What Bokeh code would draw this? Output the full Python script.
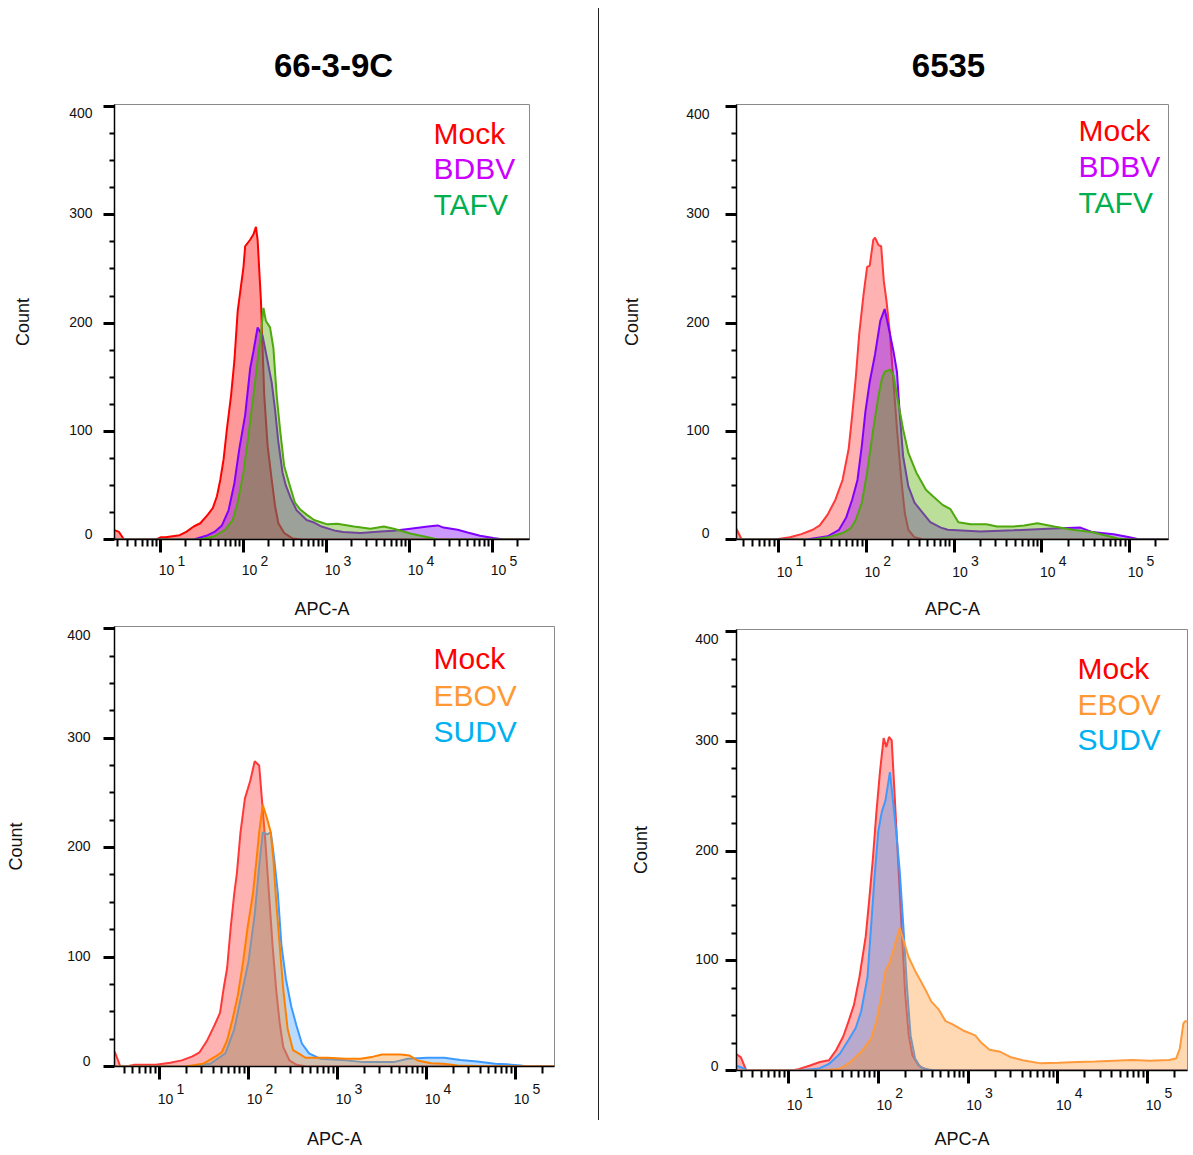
import json
from bokeh.plotting import figure
from bokeh.models import (Range1d, FixedTicker, Label, Div, CustomJSTickFormatter,
                          LogAxis, LinearAxis)
from bokeh.layouts import row, column
from bokeh.embed import file_html
from bokeh.resources import INLINE

# ---------------- data (x as log10(APC-A), y as Count) ----------------
titles = ["66-3-9C", "6535"]
x_tick_exponents = [1, 2, 3, 4, 5]
y_tick_values = [0, 100, 200, 300, 400]

# Panel 1: 66-3-9C, Mock / BDBV / TAFV
p1_mock_x = [0.40, 0.50, 0.56, 0.95, 1.00, 1.06, 1.23, 1.31, 1.40, 1.48, 1.57, 1.63, 1.68, 1.72, 1.76, 1.80, 1.85, 1.89, 1.93, 2.00, 2.02, 2.08, 2.12, 2.15, 2.17, 2.21, 2.25, 2.29, 2.34, 2.38, 2.42, 2.49, 2.59, 2.70, 5.50]
p1_mock_y = [10, 7, 0, 0, 2, 2, 4, 7, 12, 15, 23, 29, 40, 55, 74, 102, 133, 165, 211, 252, 271, 277, 282, 289, 277, 221, 133, 87, 55, 31, 15, 6, 1, 0, 0]
p1_bdbv_x = [0.40, 1.40, 1.57, 1.65, 1.74, 1.82, 1.89, 1.95, 2.02, 2.08, 2.12, 2.17, 2.23, 2.29, 2.34, 2.38, 2.42, 2.47, 2.51, 2.57, 2.64, 2.76, 2.84, 2.94, 3.11, 3.20, 3.41, 3.65, 3.81, 4.01, 4.22, 4.34, 4.41, 4.58, 4.70, 4.85, 5.01, 5.13, 5.50]
p1_bdbv_y = [0, 0, 4, 7, 13, 27, 52, 84, 115, 158, 174, 196, 188, 165, 145, 120, 90, 62, 50, 38, 27, 18, 16, 12, 8, 7, 6, 7.5, 8, 10, 12, 13, 11, 9, 6.5, 3.5, 1.3, 0, 0]
p1_tafv_x = [0.40, 1.48, 1.65, 1.78, 1.87, 1.93, 2.00, 2.06, 2.12, 2.17, 2.21, 2.24, 2.27, 2.32, 2.36, 2.40, 2.44, 2.49, 2.55, 2.62, 2.68, 2.76, 2.85, 3.01, 3.13, 3.33, 3.53, 3.69, 3.81, 4.01, 4.22, 4.34, 5.50]
p1_tafv_y = [0, 0, 3, 9, 18, 34, 62, 96, 133, 165, 190, 214, 202, 196, 177, 133, 102, 68, 52, 34, 28, 23, 18, 14, 14.5, 12, 10, 12, 10, 5.5, 2, 0, 0]

# Panel 2: 6535, Mock / BDBV / TAFV
p2_mock_x = [0.40, 0.52, 0.58, 0.96, 1.13, 1.26, 1.39, 1.47, 1.56, 1.65, 1.73, 1.80, 1.84, 1.88, 1.92, 1.97, 2.01, 2.04, 2.08, 2.10, 2.14, 2.17, 2.20, 2.23, 2.27, 2.31, 2.35, 2.40, 2.44, 2.48, 2.55, 2.65, 5.50]
p2_mock_y = [14, 10, 0, 0, 2, 5, 9, 13, 23, 37, 55, 84, 115, 149, 190, 227, 252, 253, 277, 279, 272, 271, 239, 221, 190, 146, 102, 55, 24, 9, 2, 0, 0]
p2_bdbv_x = [0.40, 1.32, 1.56, 1.69, 1.77, 1.84, 1.90, 1.95, 1.99, 2.04, 2.10, 2.16, 2.21, 2.27, 2.31, 2.35, 2.38, 2.42, 2.48, 2.55, 2.63, 2.73, 2.85, 2.93, 3.30, 3.68, 4.07, 4.44, 4.57, 4.82, 5.00, 5.09, 5.50]
p2_bdbv_y = [0, 0, 3, 9, 20, 37, 55, 87, 118, 146, 171, 202, 213, 190, 174, 155, 118, 77, 49, 34, 26, 16, 11, 9, 7.5, 8.5, 10, 11, 7, 4.8, 2, 0.5, 0]
p2_tafv_x = [0.40, 1.39, 1.56, 1.73, 1.82, 1.88, 1.95, 2.01, 2.08, 2.14, 2.18, 2.21, 2.27, 2.31, 2.35, 2.42, 2.48, 2.57, 2.68, 2.76, 2.87, 2.96, 3.05, 3.19, 3.37, 3.49, 3.68, 3.80, 3.95, 4.14, 4.35, 4.57, 4.74, 4.87, 4.98, 5.50]
p2_tafv_y = [0, 0, 2, 6, 10, 18, 34, 62, 102, 133, 149, 155, 157, 152, 133, 102, 80, 62, 46, 40, 32, 28, 16, 14, 14, 12, 12, 13, 15, 12, 9, 7, 3.5, 1, 0, 0]

# Panel 3: 66-3-9C, Mock / EBOV / SUDV
p3_mock_x = [0.40, 0.50, 0.56, 0.62, 0.71, 0.84, 0.96, 1.12, 1.25, 1.37, 1.45, 1.53, 1.62, 1.68, 1.72, 1.76, 1.80, 1.84, 1.87, 1.91, 1.96, 2.02, 2.07, 2.12, 2.15, 2.19, 2.23, 2.27, 2.31, 2.35, 2.39, 2.46, 2.54, 2.65, 5.50]
p3_mock_y = [17, 13, 0, 0, 1.5, 1.5, 1.5, 3.4, 5.6, 9.3, 13, 23, 38, 49, 71, 90, 127, 158, 177, 214, 245, 261, 279, 275, 245, 205, 158, 111, 71, 40, 18, 5.6, 1.5, 0, 0]
p3_sudv_x = [0.40, 1.33, 1.57, 1.74, 1.84, 1.92, 2.00, 2.07, 2.12, 2.16, 2.21, 2.25, 2.29, 2.33, 2.37, 2.42, 2.48, 2.54, 2.60, 2.68, 2.81, 3.09, 3.30, 3.50, 3.63, 3.79, 4.01, 4.20, 4.38, 4.57, 4.77, 4.90, 5.06, 5.12, 5.50]
p3_sudv_y = [0, 0, 2.5, 12, 34, 65, 96, 139, 183, 214, 212, 214, 189, 158, 111, 80, 55, 37, 21, 12, 7, 5.6, 4, 4, 4, 7, 8, 8, 6, 4.5, 2.5, 2, 1, 0, 0]
p3_ebov_x = [0.40, 1.29, 1.49, 1.62, 1.70, 1.76, 1.82, 1.88, 1.94, 1.99, 2.05, 2.09, 2.12, 2.16, 2.21, 2.25, 2.28, 2.31, 2.35, 2.39, 2.44, 2.50, 2.58, 2.64, 2.89, 3.09, 3.26, 3.40, 3.50, 3.71, 3.81, 3.90, 4.05, 4.19, 4.35, 4.57, 5.50]
p3_ebov_y = [0, 0, 2.5, 8.7, 13, 24, 43, 65, 96, 127, 158, 189, 214, 239, 226, 214, 189, 152, 111, 71, 34, 15, 11, 8, 8, 7, 7, 9, 11, 11, 10, 5.5, 3, 2.5, 1, 0.5, 0]

# Panel 4: 6535, Mock / EBOV / SUDV
p4_mock_x = [0.40, 0.47, 0.53, 1.05, 1.12, 1.24, 1.35, 1.45, 1.53, 1.61, 1.67, 1.73, 1.79, 1.86, 1.90, 1.94, 1.98, 2.02, 2.06, 2.09, 2.12, 2.15, 2.18, 2.22, 2.26, 2.30, 2.34, 2.38, 2.45, 2.51, 2.60, 5.50]
p4_mock_y = [16, 12, 0, 0, 1.5, 4.6, 7.7, 9.3, 18.5, 31, 45, 60, 85, 122, 156, 193, 236, 273, 303, 295, 304, 301, 255, 193, 131, 70, 32, 14, 4.6, 1.5, 0, 0]
p4_sudv_x = [0.40, 0.47, 0.55, 1.08, 1.33, 1.45, 1.57, 1.67, 1.75, 1.81, 1.88, 1.92, 1.96, 2.00, 2.04, 2.08, 2.13, 2.16, 2.20, 2.24, 2.28, 2.32, 2.36, 2.41, 2.47, 2.55, 2.65, 5.50]
p4_sudv_y = [5, 3, 0, 0, 1.5, 6, 15, 28, 39, 54, 85, 131, 178, 218, 236, 246, 272, 249, 218, 181, 131, 76, 32, 11, 3, 1, 0, 0]
p4_ebov_x = [0.40, 1.37, 1.57, 1.69, 1.81, 1.92, 1.98, 2.04, 2.08, 2.12, 2.16, 2.20, 2.24, 2.28, 2.34, 2.41, 2.47, 2.53, 2.59, 2.67, 2.75, 2.83, 2.96, 3.08, 3.14, 3.24, 3.36, 3.48, 3.61, 3.81, 4.01, 4.22, 4.42, 4.63, 4.83, 5.03, 5.24, 5.32, 5.36, 5.40, 5.42, 5.50]
p4_ebov_y = [0, 0, 1.5, 7.7, 17, 29, 45, 70, 91, 97, 107, 119, 130, 119, 103, 91, 82, 73, 63, 56, 45, 42, 36, 32, 26, 19, 17, 12, 9.3, 6.5, 7, 7.7, 8.3, 9, 9.6, 9, 9.6, 11, 20, 43, 45, 45]

# ---------------- styling ----------------
FONT = "Liberation Sans"
Y_TOP = 402

legend_colors = {"Mock": "#ff0000", "BDBV": "#cc00ff", "TAFV": "#00b050",
                 "EBOV": "#ff9933", "SUDV": "#00b0f0"}
series_style = {
    "Mock1": dict(line="#ff0000", fill="#ff0000", alpha=0.40),
    "Mock": dict(line="#ff3838", fill="#ff0000", alpha=0.30),
    "BDBV": dict(line="#8000ff", fill="#8000ff", alpha=0.40),
    "TAFV": dict(line="#4ea80e", fill="#55b000", alpha=0.40),
    "EBOV": dict(line="#ff8000", fill="#ff8c1a", alpha=0.35),
    "EBOV4": dict(line="#ff9a3c", fill="#ff8c1a", alpha=0.33),
    "SUDV": dict(line="#3d9bff", fill="#3399ff", alpha=0.35),
}


def style_label_axis(axis, size, bold=False):
    axis.axis_line_color = None
    axis.major_tick_line_color = None
    axis.minor_tick_line_color = None
    axis.major_tick_out = 0
    axis.major_tick_in = 0
    axis.minor_tick_out = 0
    axis.minor_tick_in = 0
    axis.major_label_text_font = FONT
    axis.major_label_text_font_size = size
    axis.major_label_text_color = "black" if bold else "#111111"
    axis.major_label_text_font_style = "bold" if bold else "normal"
    axis.axis_label_text_font = FONT
    axis.axis_label_text_font_size = "18px"
    axis.axis_label_text_font_style = "normal"
    axis.axis_label_text_color = "#111111"


def make_panel(c):
    dec = c["dec"]                        # pixels per decade
    lo = 1 - (c["t1"] - c["left"]) / dec  # log10 value at frame left
    hi = lo + c["fw"] / dec
    scale = c["fh"] / Y_TOP                # pixels per count

    def xdata(px):
        return 10 ** (lo + (px - c["left"]) / dec)

    p = figure(x_axis_type="log",
               x_range=Range1d(10 ** lo, 10 ** hi),
               y_range=Range1d(0, Y_TOP),
               frame_width=c["fw"], frame_height=c["fh"],
               min_border_left=c["bl"], min_border_right=c["br"],
               min_border_top=c["bt"], min_border_bottom=c["bb"],
               output_backend="svg", toolbar_location=None)
    p.title.text = ""
    p.xgrid.visible = False
    p.ygrid.visible = False
    p.outline_line_color = "#8a8a8a"
    p.outline_line_width = 1

    for (xs, ys, key) in c["series"]:
        st = series_style[key]
        xv = [10 ** v for v in xs]
        p.varea(x=xv, y1=[0] * len(ys), y2=ys, fill_color=st["fill"], fill_alpha=st["alpha"])
        p.line(x=xv, y=ys, line_color=st["line"], line_width=2)

    blank = CustomJSTickFormatter(code="return '';")

    # --- x: tick axis ---
    minor_x = [m * 10 ** e for e in range(0, 6) for m in range(2, 10)
               if 10 ** lo <= m * 10 ** e <= 10 ** hi]
    xa = p.xaxis[0]
    xa.ticker = FixedTicker(ticks=[10 ** k for k in x_tick_exponents], minor_ticks=minor_x)
    xa.formatter = blank
    xa.major_label_standoff = 0
    xa.major_label_text_font_size = "1px"
    xa.axis_line_color = "black"
    xa.axis_line_width = 1.5
    xa.major_tick_line_color = "black"
    xa.major_tick_line_width = 3
    xa.major_tick_out = 13
    xa.major_tick_in = 0
    xa.minor_tick_line_color = "black"
    xa.minor_tick_line_width = 2
    xa.minor_tick_out = 7
    xa.minor_tick_in = 0

    # superscript exponents, just right of each decade tick
    sup_axis = LogAxis(ticker=FixedTicker(ticks=[10 ** (k + 21.0 / dec) for k in x_tick_exponents]),
                       formatter=CustomJSTickFormatter(code="return String(Math.floor(Math.log10(tick) + 1e-9));"))
    style_label_axis(sup_axis, "14px")
    sup_axis.major_label_standoff = c["sS"]
    p.add_layout(sup_axis, "below")
    # base "10" of each decade label
    ten_axis = LogAxis(ticker=FixedTicker(ticks=[10 ** (k + 6.0 / dec) for k in x_tick_exponents]),
                       formatter=CustomJSTickFormatter(code="return '10';"),
                       axis_label="APC-A")
    style_label_axis(ten_axis, "14px")
    ten_axis.major_label_standoff = c["sN"]
    ten_axis.axis_label_standoff = c["alsx"]
    p.add_layout(ten_axis, "below")

    # --- column title, as a single-label axis above the frame ---
    if c.get("title"):
        t_axis = LogAxis(ticker=FixedTicker(ticks=[xdata(c["title_px"])]),
                         formatter=CustomJSTickFormatter(code="return %s;" % json.dumps(c["title"])))
        style_label_axis(t_axis, "33px", bold=True)
        t_axis.major_label_standoff = c["tstand"]
        p.add_layout(t_axis, "above")

    # --- y: tick axis ---
    ya = p.yaxis[0]
    ya.ticker = FixedTicker(ticks=y_tick_values,
                            minor_ticks=[v for v in range(25, 400, 25) if v % 100])
    ya.formatter = blank
    ya.major_label_standoff = 0
    ya.major_label_text_font_size = "1px"
    ya.axis_line_color = "black"
    ya.axis_line_width = 1.5
    ya.major_tick_line_color = "black"
    ya.major_tick_line_width = 3
    ya.major_tick_out = 11
    ya.major_tick_in = 0
    ya.minor_tick_line_color = "black"
    ya.minor_tick_line_width = 2
    ya.minor_tick_out = 5
    ya.minor_tick_in = 0

    # y labels (0 nudged up, 400 nudged down, as in the figure)
    shifted = []
    for v in y_tick_values:
        if v == 0:
            shifted.append(v + c["zero_up"] / scale)
        elif v == 400:
            shifted.append(v - c["top_down"] / scale)
        else:
            shifted.append(v + 1.5 / scale)
    ylab = LinearAxis(ticker=FixedTicker(ticks=shifted),
                      formatter=CustomJSTickFormatter(code="return String(Math.round(tick / 100) * 100);"),
                      axis_label="Count")
    style_label_axis(ylab, "14px")
    ylab.major_label_standoff = c["sL"]
    ylab.axis_label_standoff = c["alsy"]
    p.add_layout(ylab, "left")

    # in-plot legend text
    for i, name in enumerate(c["legend"]):
        p.add_layout(Label(x=xdata(c["leg_px"]), y=(c["bottom"] - c["leg_py"][i]) / scale, text=name,
                           text_align="left", text_baseline="middle",
                           text_font=FONT, text_font_size="30px", text_color=legend_colors[name]))
    return p


# left column x: 0..598, right column x: 599..1193 (absolute pixel coords used for placement)
p1 = make_panel(dict(left=114, fw=415, fh=435, bottom=539, bl=114, br=44, bt=104, bb=86,
                     t1=160, dec=83.0,
                     series=[(p1_mock_x, p1_mock_y, "Mock1"), (p1_bdbv_x, p1_bdbv_y, "BDBV"),
                             (p1_tafv_x, p1_tafv_y, "TAFV")],
                     sS=3, sN=-4, alsx=21, sL=11, alsy=33, zero_up=6, top_down=6,
                     legend=["Mock", "BDBV", "TAFV"], leg_px=433, leg_py=[133, 168, 204],
                     title=titles[0], title_px=333, tstand=21))
p2 = make_panel(dict(left=736, fw=432, fh=435, bottom=539, bl=137, br=6, bt=104, bb=86,
                     t1=778, dec=87.75,
                     series=[(p2_mock_x, p2_mock_y, "Mock"), (p2_bdbv_x, p2_bdbv_y, "BDBV"),
                             (p2_tafv_x, p2_tafv_y, "TAFV")],
                     sS=3, sN=-2, alsx=19, sL=16, alsy=41, zero_up=7, top_down=7,
                     legend=["Mock", "BDBV", "TAFV"], leg_px=1078, leg_py=[130, 165.5, 201.5],
                     title=titles[1], title_px=948, tstand=28))
p3 = make_panel(dict(left=114, fw=440, fh=440, bottom=1066, bl=114, br=44, bt=1, bb=89,
                     t1=159, dec=89.0,
                     series=[(p3_mock_x, p3_mock_y, "Mock"), (p3_sudv_x, p3_sudv_y, "SUDV"),
                             (p3_ebov_x, p3_ebov_y, "EBOV")],
                     sS=4, sN=-3, alsx=22, sL=13, alsy=38, zero_up=6, top_down=6,
                     legend=["Mock", "EBOV", "SUDV"], leg_px=433, leg_py=[658, 694.5, 730.5]))
p4 = make_panel(dict(left=736, fw=451, fh=441, bottom=1070, bl=137, br=6, bt=4, bb=85,
                     t1=788, dec=89.75,
                     series=[(p4_mock_x, p4_mock_y, "Mock"), (p4_sudv_x, p4_sudv_y, "SUDV"),
                             (p4_ebov_x, p4_ebov_y, "EBOV4")],
                     sS=4, sN=-1, alsx=16, sL=7, alsy=41, zero_up=5, top_down=7,
                     legend=["Mock", "EBOV", "SUDV"], leg_px=1077, leg_py=[668, 704, 739]))

sep = Div(text="", width=1, height=1112, margin=(8, 0, 35, 0),
          styles={"background-color": "#222222"})

layout = row(column(p1, p3, spacing=0), sep, column(p2, p4, spacing=0), spacing=0)

open("out.html", "w").write(file_html(layout, INLINE))
